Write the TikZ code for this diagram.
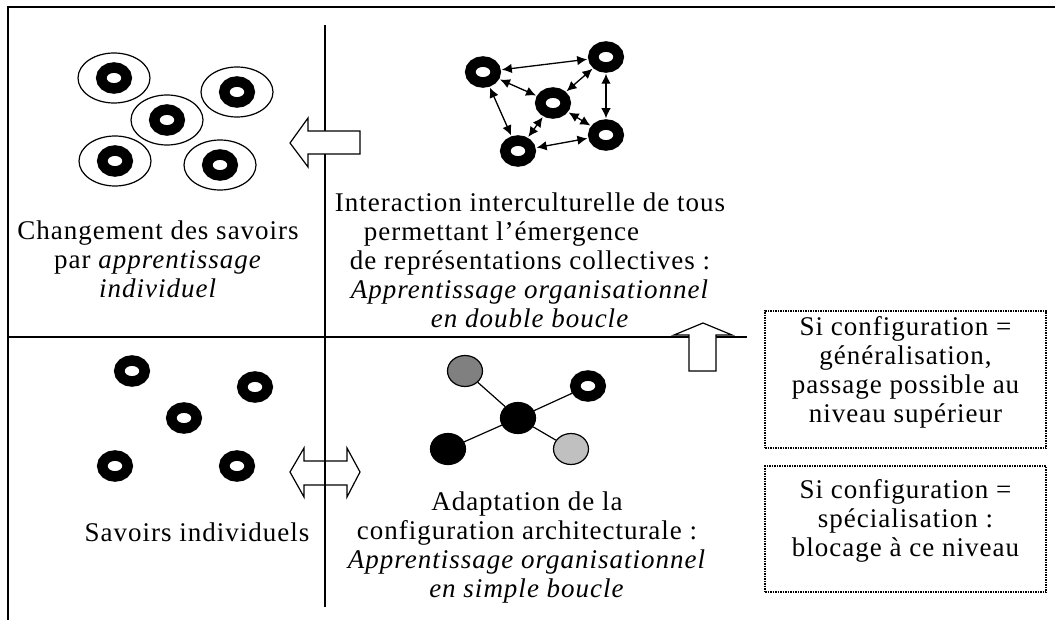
\documentclass[tikz,border=0pt]{standalone}
\usepackage{fontspec}
\setmainfont{Liberation Serif}[LetterSpace=3.7]
\usepackage{tikz}
\usetikzlibrary{shapes,arrows,arrows.meta,positioning}
\definecolor{midgray}{RGB}{128,128,128}
\definecolor{palegray}{RGB}{192,192,192}
\tikzstyle{cell} = [ellipse, draw, line width=1.2pt, minimum width=72pt, minimum height=50pt, inner sep=0pt]
\tikzstyle{ring} = [ellipse, draw, line width=10.5pt, minimum width=25.5pt, minimum height=21pt, inner sep=0pt]
\tikzstyle{blob} = [ellipse, draw, line width=1.2pt, minimum width=35pt, minimum height=31pt, inner sep=0pt]
\tikzstyle{link} = [draw, line width=1.3pt, {Latex[length=10pt,width=9.5pt]}-{Latex[length=10pt,width=9.5pt]}, shorten <=1pt, shorten >=1pt]
\tikzstyle{line} = [draw, line width=1.2pt]
\tikzstyle{rule} = [draw, line width=1.5pt]
\tikzstyle{block} = [draw, line width=1.2pt, fill=white]
\tikzstyle{note} = [draw, densely dotted, line width=1.5pt, minimum width=281pt]
\tikzstyle{txt} = [align=center, inner sep=0pt]

\begin{document}
\begin{tikzpicture}[x=1pt, y=-1pt, font=\fontsize{27pt}{29pt}\selectfont]
  \useasboundingbox (0,0) rectangle (1055,620);
  % Frame and quadrants
  \draw[rule, line width=2pt] (8,620) -- (8,7) -- (1055,7);
  \draw[rule] (325,25) -- (325,607);
  \draw[rule] (8,337) -- (747,337);
  % Top left: individual learning
  \node[cell] (c1) at (114,78) {};
  \node[cell] (c2) at (237,92) {};
  \node[cell] (c3) at (167,120) {};
  \node[cell] (c4) at (115,161) {};
  \node[cell] (c5) at (220,165) {};
  \node[ring] (k1) at (c1) {};
  \node[ring] (k2) at (c2) {};
  \node[ring] (k3) at (c3) {};
  \node[ring] (k4) at (c4) {};
  \node[ring] (k5) at (c5) {};
  \node[txt] (chg) at (158,259) {Changement des savoirs\\par \textit{apprentissage}\\\textit{individuel}};
  % Top right: intercultural interaction
  \node[ring] (a) at (483,72) {};
  \node[ring] (b) at (606,57) {};
  \node[ring] (c) at (553,103) {};
  \node[ring] (d) at (606,135) {};
  \node[ring] (e) at (518,151) {};
  \path [link] (a) -- (b);
  \path [link] (b) -- (c);
  \path [link] (b) -- (d);
  \path [link] (a) -- (c);
  \path [link] (c) -- (d);
  \path [link] (c) -- (e);
  \path [link] (a) -- (e);
  \path [link] (d) -- (e);
  \node[txt] (inter) at (530,260) {Interaction interculturelle de tous\\permettant l'émergence\hphantom{xxxx}\\de représentations collectives :\\\textit{Apprentissage organisationnel}\\\textit{en double boucle}};
  % Bottom left: individual knowledge
  \node[ring] (s1) at (132,371) {};
  \node[ring] (s2) at (255,387) {};
  \node[ring] (s3) at (184,418) {};
  \node[ring] (s4) at (115,466) {};
  \node[ring] (s5) at (237,466) {};
  \node[txt] (sav) at (197,532) {Savoirs individuels};
  % Bottom right: architectural configuration
  \node[blob, fill=midgray] (g1) at (465,371) {};
  \node[ring] (g2) at (588,386) {};
  \node[blob, fill=black] (g0) at (518,418) {};
  \node[blob, fill=black] (g3) at (448,449) {};
  \node[blob, fill=palegray] (g4) at (571,449) {};
  \path [line] (g0) -- (g1);
  \path [line] (g0) -- (g2);
  \path [line] (g0) -- (g3);
  \path [line] (g0) -- (g4);
  \node[txt] (adapt) at (527,548) {Adaptation de la\\configuration architecturale :\\\textit{Apprentissage organisationnel}\\\textit{en simple boucle}};
  % Hollow arrows
  \draw[block] (290,143) -- (308,118) -- (308,131) -- (360,131) -- (360,154) -- (308,154) -- (308,167) -- cycle;
  \draw[line] (290,472) -- (304,448) -- (304,461) -- (347,461) -- (347,448) -- (360,472) -- (347,497) -- (347,485) -- (304,485) -- (304,497) -- cycle;
  \draw[block] (703,323) -- (732,335) -- (716,335) -- (716,371) -- (689,371) -- (689,335) -- (674,335) -- cycle;
  % Right notes
  \node[note, minimum height=137pt] (gen) at (905.5,379.5) {};
  \node[txt, below=6pt of gen.north] (gentxt) {Si configuration =\\généralisation,\\passage possible au\\niveau supérieur};
  \node[note, minimum height=126pt] (spe) at (905.5,529) {};
  \node[txt, below=14pt of spe.north] (spetxt) {Si configuration =\\spécialisation :\\blocage à ce niveau};
\end{tikzpicture}
\end{document}
